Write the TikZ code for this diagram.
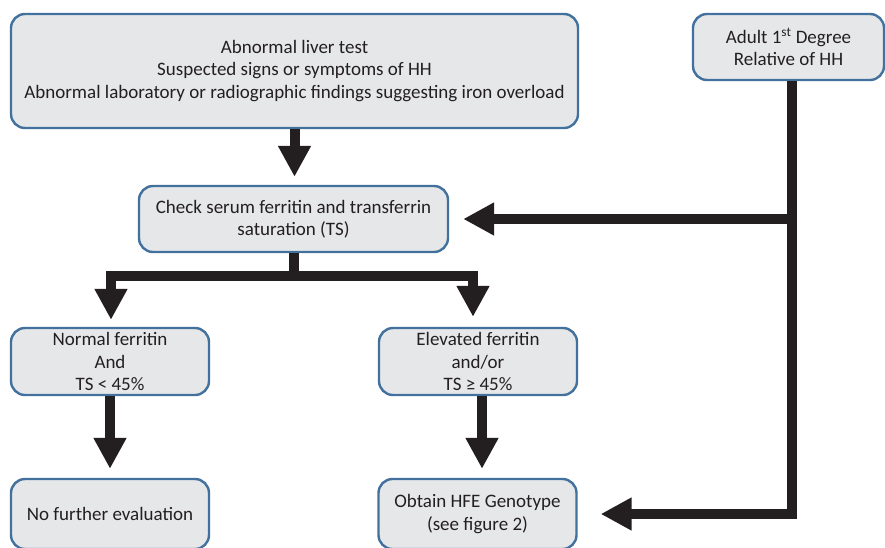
\documentclass[tikz,border=0pt]{standalone}
\usepackage{fontspec}
\setmainfont{Carlito}
\usetikzlibrary{arrows.meta}
\definecolor{boxfill}{HTML}{E6E7E9}
\definecolor{boxline}{HTML}{41719C}
\definecolor{ink}{HTML}{231F20}
\tikzset{
  stepbox/.style={draw=boxline, fill=boxfill, line width=2.4pt, rounded corners=14pt,
    inner sep=0pt, align=center, text=ink,
    font=\fontsize{19}{22.5}\selectfont},
  flow/.style={draw=ink, line width=10pt, line join=miter,
    -{Triangle[width=31pt,length=31pt]}}
}
\begin{document}
\begin{tikzpicture}[x=1pt,y=-1pt]
\useasboundingbox (0,0) rectangle (885,547);

% boxes
\node[stepbox, minimum width=567pt, minimum height=114pt] (start) at (294.5,71)
  {Abnormal liver test\\Suspected signs or symptoms of HH\\Abnormal laboratory or radiographic findings suggesting iron overload};
\node[stepbox, minimum width=191pt, minimum height=66pt] (rel) at (788.5,47)
  {Adult 1\textsuperscript{st} Degree\\Relative of HH};
\node[stepbox, minimum width=309pt, minimum height=66pt] (check) at (293.5,219)
  {Check serum ferritin and transferrin\\saturation (TS)};
\node[stepbox, minimum width=198pt, minimum height=67pt] (normal) at (110,361.5)
  {Normal ferritin\\And\\TS < 45\%};
\node[stepbox, minimum width=198pt, minimum height=67pt] (elev) at (478,361.5)
  {Elevated ferritin\\and/or\\TS ≥ 45\%};
\node[stepbox, minimum width=198pt, minimum height=70pt] (nofurther) at (110,514)
  {No further evaluation};
\node[stepbox, minimum width=198pt, minimum height=70pt] (obtain) at (477.5,514)
  {Obtain HFE Genotype\\(see figure 2)};

% connectors
\draw[flow, shorten >=8pt] (start.south) -- (start.south |- check.north);
\coordinate (split) at ([yshift=-22.5pt]check.south);
\draw[flow, shorten >=7pt] (check.south) -- (split) -| ([xshift=1pt]normal.north);
\draw[flow, shorten >=10pt] (check.south) -- (split) -| ([xshift=-5pt]elev.north);
\draw[flow, shorten >=9pt] (normal.south) -- (nofurther.north);
\draw[flow, shorten >=9pt] ([xshift=4pt]elev.south) -- ([xshift=4pt]elev.south |- obtain.north);
\draw[flow, shorten >=23pt] ([xshift=3.5pt]rel.south) |- (obtain.east);
\draw[flow, shorten >=14pt] ([xshift=3.5pt]rel.south |- check.east) -- (check.east);
\end{tikzpicture}
\end{document}
